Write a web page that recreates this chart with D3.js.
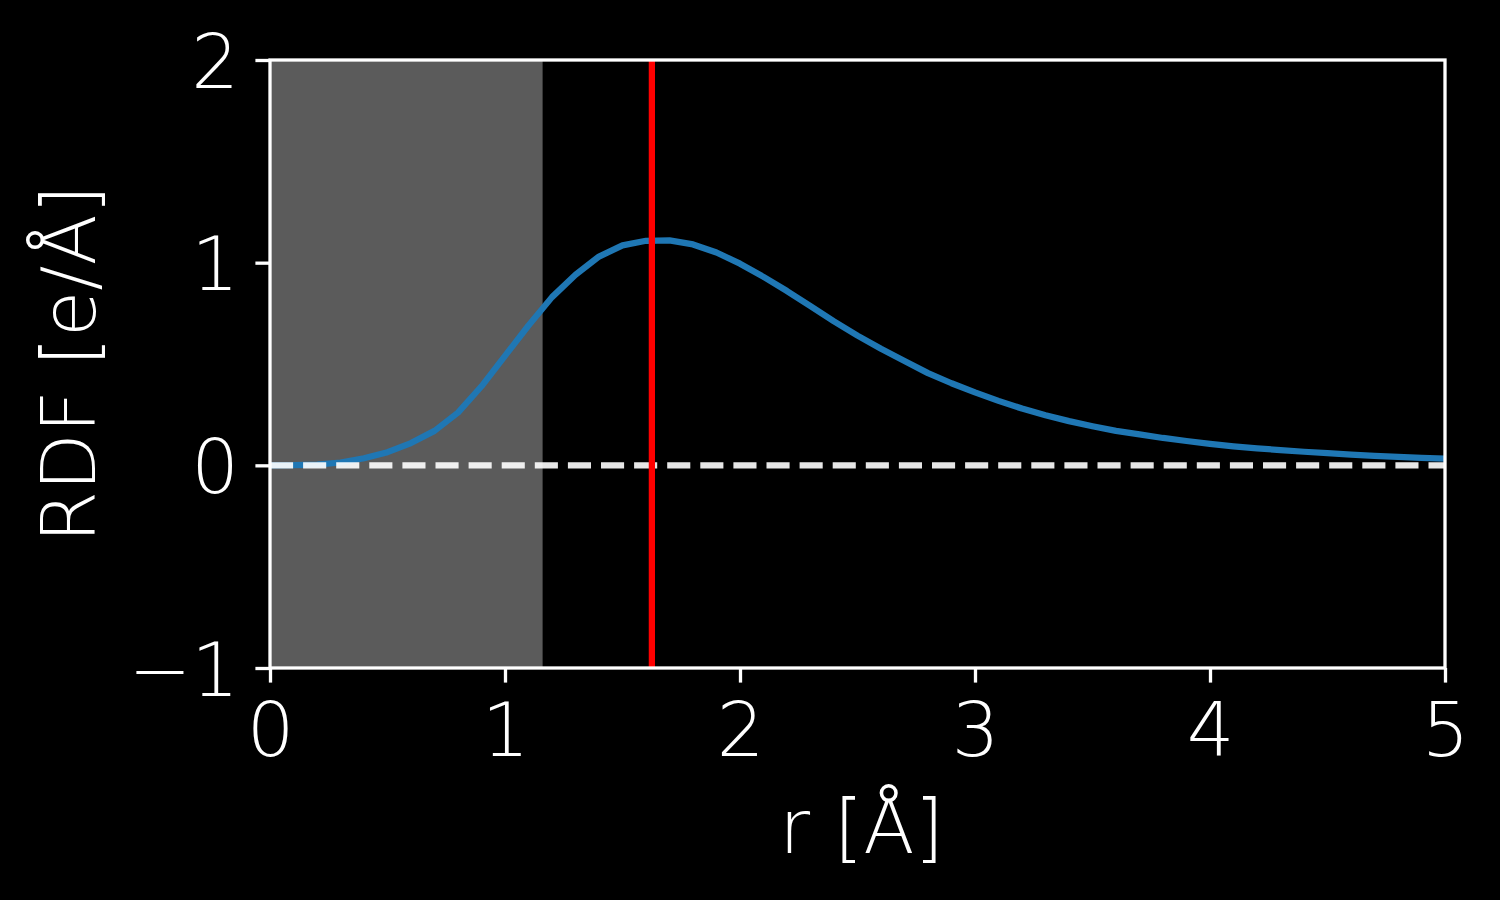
<!DOCTYPE html>
<html>
<head>
<meta charset="utf-8">
<script src="https://cdn.jsdelivr.net/npm/d3@7"></script>
<style>
  html, body { margin: 0; padding: 0; background: #000; }
  svg text { font-family: "DejaVu Sans", sans-serif; font-weight: 200; fill: #fff; }
</style>
</head>
<body>
<svg id="chart" width="1500" height="900"></svg>
<script>
// Data
const rValues = [0.0,0.1,0.2,0.3,0.4,0.5,0.6,0.7,0.8,0.9,1.0,1.1,1.2,1.3,1.4,1.5,1.6,1.7,1.8,1.9,2.0,
  2.1,2.2,2.3,2.4,2.5,2.6,2.7,2.8,2.9,3.0,3.1,3.2,3.3,3.4,3.5,3.6,3.7,3.8,3.9,4.0,
  4.1,4.2,4.3,4.4,4.5,4.6,4.7,4.8,4.9,5.0];
const rdfValues = [0.0,0.0005,0.004,0.014,0.035,0.065,0.11,0.17,0.26,0.39,0.54,0.69,0.83,0.94,1.03,1.085,1.108,1.11,1.09,1.05,0.995,
  0.93,0.86,0.785,0.71,0.64,0.575,0.515,0.455,0.405,0.36,0.318,0.28,0.247,0.218,0.193,0.17,0.153,0.135,0.12,0.106,
  0.094,0.084,0.075,0.067,0.06,0.053,0.047,0.042,0.037,0.033];
const shadedRange = [0, 1.16];
const peakR = 1.625;
const xTicks = [0, 1, 2, 3, 4, 5];
const yTicks = [-1, 0, 1, 2];
const xDomain = [0, 5];
const yDomain = [-1, 2];
const xLabel = "r [Å]";
const yLabel = "RDF [e/Å]";

(function () {
const svg = d3.select("#chart");
const pL = 270, pR = 1445, pT = 60, pB = 668;
const x = d3.scaleLinear().domain(xDomain).range([pL, pR]);
const y = d3.scaleLinear().domain(yDomain).range([pB, pT]);

svg.append("rect").attr("width", 1500).attr("height", 900).attr("fill", "#000");

// shaded region
svg.append("rect")
  .attr("x", x(shadedRange[0])).attr("y", pT)
  .attr("width", x(shadedRange[1]) - x(shadedRange[0]))
  .attr("height", pB - pT)
  .attr("fill", "#5b5b5b");

// clip
svg.append("clipPath").attr("id", "clip")
  .append("rect").attr("x", pL).attr("y", pT).attr("width", pR - pL).attr("height", pB - pT);

const g = svg.append("g").attr("clip-path", "url(#clip)");

// curve
const pts = rValues.map((r, i) => [r, rdfValues[i]]);
g.append("path")
  .datum(pts)
  .attr("fill", "none")
  .attr("stroke", "#1f77b4")
  .attr("stroke-width", 6.25)
  .attr("stroke-linejoin", "round")
  .attr("d", d3.line().x(d => x(d[0])).y(d => y(d[1])));

// zero dashed line
g.append("line")
  .attr("x1", x(xDomain[0])).attr("x2", x(xDomain[1]))
  .attr("y1", y(0)).attr("y2", y(0))
  .attr("stroke", "#ffffff").attr("stroke-opacity", 0.9)
  .attr("stroke-width", 6.25)
  .attr("stroke-dasharray", "23.1,10");

// red vertical line
g.append("line")
  .attr("x1", x(peakR)).attr("x2", x(peakR))
  .attr("y1", pT).attr("y2", pB)
  .attr("stroke", "#ff0000")
  .attr("stroke-width", 6.25);

// spines
svg.append("rect")
  .attr("x", pL).attr("y", pT).attr("width", pR - pL).attr("height", pB - pT)
  .attr("fill", "none").attr("stroke", "#fff").attr("stroke-width", 3.3);

// x axis
const xAxis = svg.append("g").attr("transform", `translate(0,${pB})`)
  .call(d3.axisBottom(x).tickValues(xTicks).tickFormat(d3.format("d")).tickSize(14.6).tickPadding(18));
xAxis.select(".domain").remove();
xAxis.selectAll(".tick line").attr("stroke", "#fff").attr("stroke-width", 3.3);
xAxis.selectAll(".tick text").attr("font-size", 75).attr("font-family", null).attr("dy", null)
  .attr("y", 88);

// y axis
const yAxis = svg.append("g").attr("transform", `translate(${pL},0)`)
  .call(d3.axisLeft(y).tickValues(yTicks).tickFormat(d => d < 0 ? "\u2212" + Math.abs(d) : String(d)).tickSize(14.6).tickPadding(16));
yAxis.select(".domain").remove();
yAxis.selectAll(".tick line").attr("stroke", "#fff").attr("stroke-width", 3.3);
yAxis.selectAll(".tick text").attr("font-size", 75).attr("font-family", null).attr("dy", 27)
  .attr("x", -31);

// axis labels
svg.append("text")
  .attr("x", (pL + pR) / 2 + 4).attr("y", 853)
  .attr("text-anchor", "middle").attr("font-size", 75)
  .text(xLabel);

svg.append("text")
  .attr("transform", `translate(95,${(pT + pB) / 2}) rotate(-90)`)
  .attr("text-anchor", "middle").attr("font-size", 75)
  .text(yLabel);
})();
</script>
</body>
</html>
